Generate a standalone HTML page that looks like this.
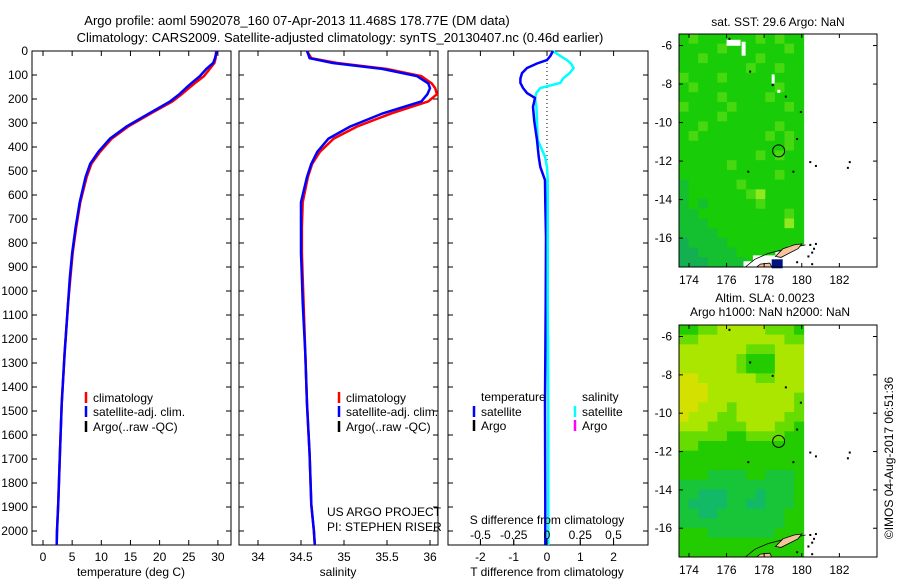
<!DOCTYPE html>
<html><head><meta charset="utf-8">
<style>
body{margin:0;background:#fff;}
svg{display:block;font-family:"Liberation Sans",sans-serif;}
text{fill:#000;}
</style></head>
<body>
<svg id="fig" width="900" height="580" viewBox="0 0 900 580" xmlns="http://www.w3.org/2000/svg">
<text x="297" y="25" font-size="13" text-anchor="middle">Argo profile: aoml 5902078_160 07-Apr-2013 11.468S 178.77E (DM data)</text>
<text x="340" y="42" font-size="13" text-anchor="middle">Climatology: CARS2009. Satellite-adjusted climatology: synTS_20130407.nc (0.46d earlier)</text>
<g id="g"></g>
</svg>
<script>
// ---------- data ----------
const depths      = [0,30,50,75,105,135,155,180,210,260,315,365,420,470,525,630,735,840,945,1050,1260,1470,1680,1890,2000,2058];
const tempClim    = [29.7,29.6,29.4,28.6,27.6,26.0,25.0,23.8,22.2,18.5,14.6,11.8,9.8,8.3,7.5,6.4,5.7,5.1,4.7,4.3,3.7,3.2,2.9,2.6,2.4,2.35];
const tempSat     = [29.8,29.5,29.2,28.0,26.9,25.4,24.5,23.4,21.8,18.2,14.3,11.5,9.5,8.1,7.3,6.3,5.6,5.0,4.6,4.3,3.7,3.2,2.9,2.6,2.4,2.35];
const salClim     = [34.57,34.62,34.92,35.5,35.9,36.02,36.06,36.08,35.98,35.55,35.15,34.88,34.72,34.63,34.58,34.52,34.51,34.51,34.52,34.53,34.55,34.57,34.6,34.62,34.65,34.66];
const salSat      = [34.57,34.6,34.87,35.45,35.85,35.98,36.0,35.97,35.9,35.45,35.07,34.82,34.69,34.62,34.57,34.5,34.5,34.5,34.51,34.52,34.55,34.57,34.6,34.62,34.65,34.66];
const diffDepths  = [0,21,38,52,71,92,115,133,154,175,196,233,293,371,440,483,538,630,775,1050,1470,1890,2058];
const tDiff       = [0.18,0.1,0.0,-0.3,-0.6,-0.75,-0.8,-0.8,-0.72,-0.6,-0.36,-0.42,-0.38,-0.3,-0.25,-0.2,-0.06,-0.05,-0.03,-0.04,-0.06,-0.05,-0.05];
const sDiff       = [0.045,0.1,0.15,0.18,0.2,0.17,0.12,0.1,-0.05,-0.08,-0.09,-0.08,-0.075,-0.07,-0.015,0.0,0.005,0.005,0.005,0.005,0.01,0.01,0.01];
const depthTicks  = [0,100,200,300,400,500,600,700,800,900,1000,1100,1200,1300,1400,1500,1600,1700,1800,1900,2000];
const tempTicks   = [0,5,10,15,20,25,30];
const salTicks    = [34,34.5,35,35.5,36];
const tdTicks     = [-2,-1,0,1,2];
const sdTicks     = [-0.5,-0.25,0,0.25,0.5];
const sdTickLabels= ["-0.5","-0.25","0","0.25","0.5"];
const lonTicks    = [174,176,178,180,182];
const latTicks    = [-6,-8,-10,-12,-14,-16];
const argoLon = 178.77, argoLat = -11.47;
const sstGrid = ["2322222232322","2222322222232","2232222232222","2222222322322","3222322222222","2322222222322","2222322223222","3222232222232","2222322222222","2232222222322","2322222223232","2222222222232","2222222232322","2222232222222","2222222222322","1222223222222","1222222342222","1212222232222","1122222222232","1112222222242","1111222222222","0111122222222","0011112222222","0001111222222"];
const slaGrid = ["2233444443332","3344444444433","4444444333444","4444443222444","4444443222444","5544444433444","5554444444444","5554444444443","5544434444443","5444334444433","4443333444332","3333322333322","3322222222222","2222222222222","2222222222222","2221111221112","1111111111112","1100011101112","1000011001112","1100111111122","1111111111122","2221111111222","2222222222222","2222222222222"];
const sstColors = ["#12b050","#14c030","#18cc08","#48d810","#90e820"];
const slaColors = ["#12ba68","#18c438","#22cc00","#66dc00","#aae600","#d4e000"];

// ---------- helpers ----------
const NS="http://www.w3.org/2000/svg";
const G=document.getElementById('g');
function el(tag,attrs,parent){const e=document.createElementNS(NS,tag);for(const k in attrs)e.setAttribute(k,attrs[k]);(parent||G).appendChild(e);return e;}
function txt(x,y,s,size,anchor,parent){const t=el('text',{x:x,y:y,'font-size':size||12,'text-anchor':anchor||'start'},parent);t.textContent=s;return t;}
const Y0=51, Y1=545;
const yD=d=>Y0+d*0.24;

function panel(name,x0,x1){
  const g=el('g',{});
  
  
  el('rect',{x:x0,y:Y0,width:x1-x0,height:Y1-Y0,fill:'none',stroke:'#000','stroke-width':1},g);
  depthTicks.forEach(d=>{
    el('line',{x1:x0,x2:x0+5,y1:yD(d),y2:yD(d),stroke:'#000'},g);
    el('line',{x1:x1-5,x2:x1,y1:yD(d),y2:yD(d),stroke:'#000'},g);
  });
  return g;
}
function xTicks(g,vals,fx,labels,ly){
  vals.forEach((v,i)=>{
    const x=fx(v);
    el('line',{x1:x,x2:x,y1:Y0,y2:Y0+5,stroke:'#000'},g);
    el('line',{x1:x,x2:x,y1:Y1-5,y2:Y1,stroke:'#000'},g);
    if(labels) txt(x,ly,labels[i],12,'middle',g);
  });
}
function line(g,xs,ds,fx,color,w,name){
  const p=xs.map((v,i)=>fx(v).toFixed(1)+','+yD(ds[i]).toFixed(1)).join(' ');
  const e=el('polyline',{points:p,fill:'none',stroke:color,'stroke-width':w||2.5},g);
  
  
}
function legend(g,x,y,color,label){
  el('line',{x1:x,x2:x,y1:y-10,y2:y+1,stroke:color,'stroke-width':2.5},g);
  const t=txt(x+7,y,label,12,'start',g);
  
  
}

// depth labels
const dl=el('g',{});


depthTicks.forEach(d=>txt(28,yD(d)+4,String(d),12,'end',dl));

// ---------- panel 1: temperature ----------
const fT=v=>43+v*5.83;
const p1=panel('temperature-panel',32,231);
xTicks(p1,tempTicks,fT,tempTicks.map(String),561);
txt(131,576,'temperature (deg C)',12,'middle',p1);
line(p1,tempClim,depths,fT,'#ff0000',2.5,'temperature-climatology-line');
line(p1,tempSat,depths,fT,'#0000ff',2.5,'temperature-satellite-line');
legend(p1,86,402,'#ff0000','climatology');
legend(p1,86,416,'#0000ff','satellite-adj. clim.');
legend(p1,86,431,'#000000','Argo(..raw -QC)');

// ---------- panel 2: salinity ----------
const fS=v=>258+(v-34)*86;
const p2=panel('salinity-panel',239,438);
xTicks(p2,salTicks,fS,salTicks.map(String),561);
txt(338,576,'salinity',12,'middle',p2);
line(p2,salClim,depths,fS,'#ff0000',2.5,'salinity-climatology-line');
line(p2,salSat,depths,fS,'#0000ff',2.5,'salinity-satellite-line');
legend(p2,339,402,'#ff0000','climatology');
legend(p2,339,416,'#0000ff','satellite-adj. clim.');
legend(p2,339,431,'#000000','Argo(..raw -QC)');
txt(327,516,'US ARGO PROJECT',12,'start',p2);
txt(327,531,'PI: STEPHEN RISER',12,'start',p2);

// ---------- panel 3: differences ----------
const fTD=v=>547+v*33.3;
const fSD=v=>547+v*133;
const p3=panel('difference-panel',448,648);
xTicks(p3,tdTicks,fTD,tdTicks.map(String),561);
txt(547,576,'T difference from climatology',12,'middle',p3);
el('line',{x1:547,x2:547,y1:Y0,y2:217,stroke:'#000','stroke-dasharray':'1,3'},p3);
line(p3,sDiff,diffDepths,fSD,'#00ffff',2.5,'salinity-difference-line');
line(p3,tDiff,diffDepths,fTD,'#0000ff',2.5,'temperature-difference-line');
line(p3,sDiff.slice(16),diffDepths.slice(16),fSD,'#00ffff',2.5,'salinity-difference-deep-line');
txt(547,524,'S difference from climatology',12,'middle',p3);
sdTicks.forEach((v,i)=>{el('line',{x1:fSD(v),x2:fSD(v),y1:Y1-6,y2:Y1,stroke:'#000'},p3);txt(fSD(v),539,sdTickLabels[i],12,'middle',p3);});
txt(481,401,'temperature',12,'start',p3);
txt(582,401,'salinity',12,'start',p3);
legend(p3,474,416,'#0000ff','satellite');
legend(p3,474,430,'#000000','Argo');
legend(p3,575,416,'#00ffff','satellite');
legend(p3,575,430,'#ff00ff','Argo');

// ---------- maps ----------
function map(name,top,bot,grid,colors,blankSST){
  const g=el('g',{});
  
  
  const X0=679,X1=877,lonL=173.47,latT=-5.4,latB=-17.5;
  const ppdX=18.8, ppdY=(bot-top)/(latT-latB);
  const fx=lon=>X0+(lon-lonL)*ppdX;
  const fy=lat=>top+(latT-lat)*ppdY;
  const rows=grid.length, cols=grid[0].length;
  const cw=(fx(180.1)-X0)/cols, ch=(bot-top)/rows;
  grid.forEach((row,r)=>{
    for(let c=0;c<cols;c++){
      const cell=el('rect',{x:X0+c*cw,y:top+r*ch,width:cw+0.5,height:ch+0.5,fill:colors[+row[c]]},g);
      
      
    }
  });
  const P=pts=>pts.map(p=>fx(p[0]).toFixed(1)+','+fy(p[1]).toFixed(1)).join(' ');
  if(blankSST){
    el('polygon',{points:P([[176.9,-17.6],[176.9,-17.2],[177.4,-17.2],[177.4,-16.9],[178.6,-16.9],[178.6,-16.7],[179.3,-16.7],[179.3,-16.4],[180.2,-16.4],[180.2,-17.6]]),fill:'#fff'},g);
    el('rect',{x:fx(176.0),y:fy(-5.7),width:14,height:6,fill:'#fff'},g);
    el('rect',{x:fx(176.8),y:fy(-5.8),width:4,height:14,fill:'#fff'},g);
    el('rect',{x:fx(178.4),y:fy(-7.5),width:3,height:9,fill:'#fff'},g);
    el('rect',{x:fx(178.7),y:fy(-8.3),width:3,height:3,fill:'#fff'},g);
    el('rect',{x:fx(178.4),y:fy(-17.1),width:11,height:9,fill:'#001480'},g);
  }
  el('polyline',{points:P([[177.0,-17.5],[177.5,-17.1],[178.2,-16.8],[179.0,-16.6],[180.2,-16.35]]),fill:'none',stroke:'#000','stroke-width':0.8},g);
  el('polygon',{points:P([[178.6,-16.95],[179.0,-16.55],[179.6,-16.35],[180.0,-16.3],[179.8,-16.55],[179.3,-16.8],[178.9,-17.0]]),fill:'#f5c39c',stroke:'#000','stroke-width':0.8},g);
  el('polygon',{points:P([[177.6,-17.5],[177.8,-17.35],[178.3,-17.3],[178.4,-17.5]]),fill:'#f5c39c',stroke:'#000','stroke-width':0.8},g);
  [[180.4,-16.3],[180.6,-16.5],[180.5,-16.7],[180.3,-16.9],[180.7,-16.25],[179.7,-17.2],[180.5,-17.3],[180.4,-12.0],[180.7,-12.2],[182.4,-12.3],[182.5,-12.0],[177.1,-12.5],[179.5,-12.5],[176.1,-5.6],[177.2,-7.3],[178.4,-8.0],[179.1,-8.6],[179.9,-9.4],[179.7,-10.8]].forEach(p=>el('rect',{x:fx(p[0]),y:fy(p[1]),width:2,height:2,fill:'#000'},g));
  const c=el('circle',{cx:fx(argoLon),cy:fy(argoLat),r:6,fill:'none',stroke:'#000','stroke-width':1},g);
  
  
  el('rect',{x:X0,y:top,width:X1-X0,height:bot-top,fill:'none',stroke:'#000'},g);
  lonTicks.forEach(l=>{
    el('line',{x1:fx(l),x2:fx(l),y1:top,y2:top+4,stroke:'#000'},g);
    el('line',{x1:fx(l),x2:fx(l),y1:bot-4,y2:bot,stroke:'#000'},g);
    txt(fx(l),bot+17,String(l),12,'middle',g);
  });
  latTicks.forEach(l=>{
    el('line',{x1:X0,x2:X0+4,y1:fy(l),y2:fy(l),stroke:'#000'},g);
    el('line',{x1:X1-4,x2:X1,y1:fy(l),y2:fy(l),stroke:'#000'},g);
    txt(X0-7,fy(l)+4,String(l),12,'end',g);
  });
}
map('sst-map',34,267,sstGrid,sstColors,true);
map('sla-map',325,557,slaGrid,slaColors,false);
txt(778,26,'sat. SST: 29.6 Argo: NaN',12,'middle');
txt(765,302,'Altim. SLA: 0.0023',12,'middle');
txt(770,316,'Argo h1000: NaN h2000: NaN',12,'middle');
const cr=txt(0,0,'©IMOS 04-Aug-2017 06:51:36',12,'middle');
cr.setAttribute('transform','translate(893,458) rotate(-90)');


</script>
</body></html>
